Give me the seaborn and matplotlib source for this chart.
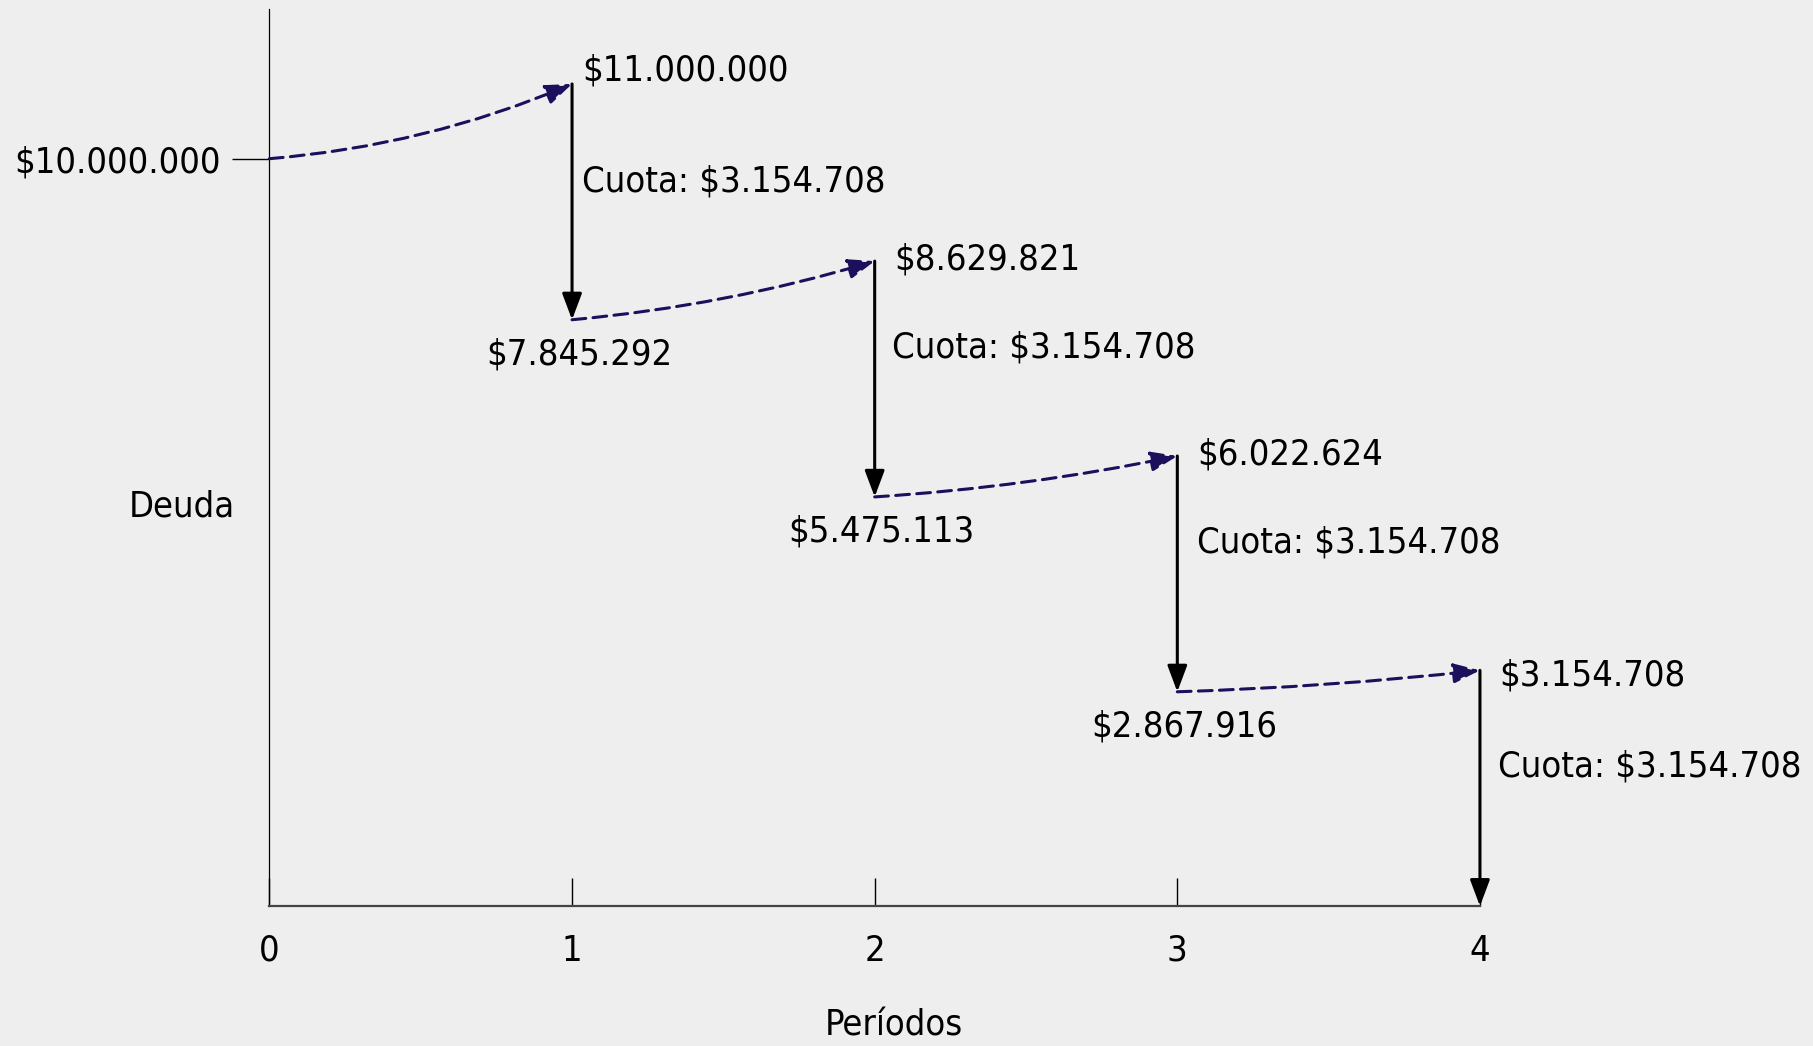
import matplotlib
matplotlib.use("Agg")
import matplotlib.pyplot as plt
import seaborn as sns

# Datos del diagrama de amortización
periods = [0, 1, 2, 3, 4]
period_labels = ["0", "1", "2", "3", "4"]
start_debt = 10_000_000
debt_with_interest = [11_000_000, 8_629_821, 6_022_624, 3_154_708]
debt_after_payment = [7_845_292, 5_475_113, 2_867_916, 0]
payment = 3_154_708

BG = "#eeeeee"
NAVY = "#1c0f5c"
FS = 26
# estilo: curvatura de cada flecha de interés y desplazamientos de etiquetas (puntos)
rads = [0.08, 0.05, 0.035, 0.02]
peak_offsets = [(7.5, 10), (14, 1.5), (14, 1), (14, -4)]
cuota_offsets = [(7.5, -70), (12.5, -62), (14, -62), (13.3, -69)]


def pesos(v):
    return "$" + f"{v:,.0f}".replace(",", ".")


sns.set_theme(style="white", rc={"axes.facecolor": BG, "figure.facecolor": BG})
plt.rcParams["font.family"] = ["DejaVu Sans"]
plt.rcParams["font.stretch"] = "condensed"
plt.rcParams["font.size"] = FS
plt.rcParams["text.color"] = "black"

fig = plt.figure(figsize=(18.13, 10.46), dpi=100)
ax = fig.add_axes([0.1486, 0.1337, 0.6677, 0.8575])
ax.set_xlim(0, 4)
ax.set_ylim(0, 12e6)

head = "-|>,head_length=0.8,head_width=0.3"
prev = start_debt
for i, (peak, after) in enumerate(zip(debt_with_interest, debt_after_payment)):
    x0, x1 = periods[i], periods[i + 1]
    # crecimiento por intereses (flecha punteada)
    ax.annotate(
        "", xy=(x1, peak), xytext=(x0, prev),
        arrowprops=dict(arrowstyle=head, mutation_scale=20, color=NAVY, lw=2.2,
                        linestyle=(0, (4.5, 2.4)), shrinkA=0, shrinkB=0,
                        connectionstyle=f"arc3,rad={rads[i]}"),
        annotation_clip=False,
    )
    # pago de la cuota (flecha vertical)
    ax.annotate(
        "", xy=(x1, after), xytext=(x1, peak),
        arrowprops=dict(arrowstyle=head, mutation_scale=20, color="black", lw=2.2,
                        shrinkA=0, shrinkB=0),
        annotation_clip=False,
    )
    ax.annotate(pesos(peak), xy=(x1, peak), xytext=peak_offsets[i], textcoords="offset points",
                ha="left", va="center", fontsize=FS, annotation_clip=False)
    ax.annotate(f"Cuota: {pesos(payment)}", xy=(x1, peak), xytext=cuota_offsets[i],
                textcoords="offset points", ha="left", va="center", fontsize=FS,
                annotation_clip=False)
    if after > 0:
        ax.annotate(pesos(after), xy=(x1, after), xytext=(5, -25), textcoords="offset points",
                    ha="center", va="center", fontsize=FS, annotation_clip=False)
    prev = after

ax.set_xticks(periods, period_labels)
ax.tick_params(axis="x", direction="in", length=20, width=1, pad=20, labelsize=FS,
               color="black", labelcolor="black", bottom=True)
ax.set_yticks([start_debt], [pesos(start_debt)])
ax.tick_params(axis="y", direction="out", length=27, width=1, pad=8, labelsize=FS,
               color="black", labelcolor="black", left=True)

sns.despine(ax=ax)
ax.spines["left"].set_color("black")
ax.spines["left"].set_linewidth(0.9)
ax.spines["bottom"].set_color("#444444")
ax.spines["bottom"].set_linewidth(1.6)

ax.set_ylabel("Deuda", rotation=0, ha="center", va="center", fontsize=FS, color="black")
ax.yaxis.set_label_coords(-0.0726, 0.446)
ax.set_xlabel("Períodos", va="center", fontsize=FS, color="black")
ax.xaxis.set_label_coords(0.516, -0.1327)

fig.savefig("out.png", dpi=100, facecolor=BG)
